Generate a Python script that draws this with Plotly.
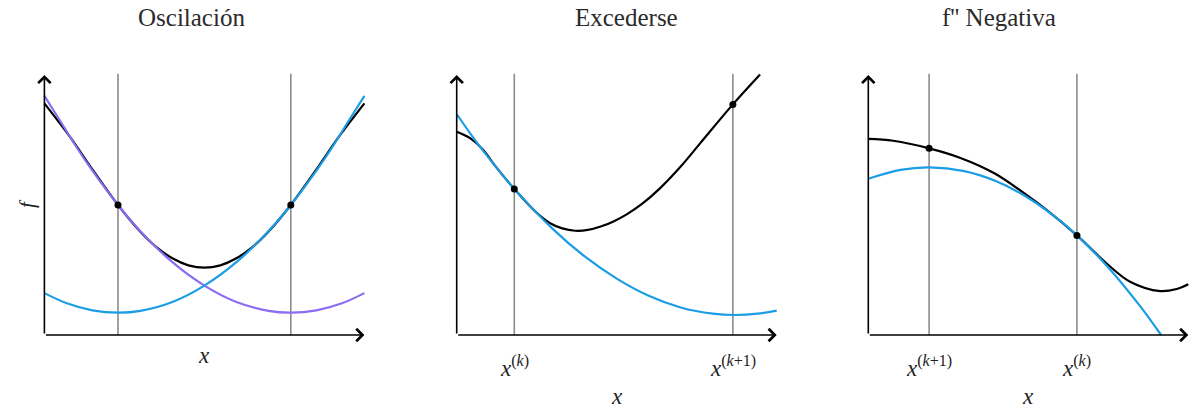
import plotly.graph_objects as go

# ---------------- data ----------------
panel_titles = ["Oscilación", "Excederse", "f'' Negativa"]

# Oscilación: true function and the two quadratic models
osc_x_f = [0, 0.8, 1.5, 2.3, 3.0, 3.5, 4.0, 4.5, 5.0, 5.5, 6.0, 6.5, 7.0, 7.7, 8.5, 9.2, 10]
osc_y_f = [8.91, 7.62, 6.37, 5.0, 3.97, 3.38, 2.95, 2.68, 2.59, 2.68, 2.95, 3.38, 3.97, 5.0, 6.37, 7.62, 8.91]
osc_x_q1 = [0, 0.5, 1.0, 1.5, 2.3, 3.0, 4.0, 5.0, 6.0, 7.0, 7.7, 8.5, 9.3, 10]
osc_y_q1 = [9.2, 8.22, 7.23, 6.32, 5.0, 3.99, 2.80, 1.90, 1.27, 0.93, 0.86, 0.95, 1.22, 1.61]
osc_x_q2 = [0, 0.7, 1.5, 2.3, 3.0, 4.0, 5.0, 6.0, 7.0, 7.7, 8.5, 9.0, 9.5, 10]
osc_y_q2 = [1.61, 1.22, 0.95, 0.86, 0.93, 1.27, 1.90, 2.80, 3.99, 5.0, 6.32, 7.23, 8.22, 9.2]
osc_steps_x = [2.3, 7.7]
osc_steps_y = [5.0, 5.0]

# Excederse
exc_x_f = [0, 0.42, 0.83, 1.14, 1.8, 2.5, 2.92, 3.3, 3.7, 4.1, 4.5, 4.9, 5.3, 5.8, 6.35, 7.0, 7.6, 8.63, 9.48]
exc_y_f = [7.82, 7.57, 7.12, 6.60, 5.62, 4.70, 4.30, 4.10, 4.01, 4.04, 4.17, 4.37, 4.63, 5.05, 5.64, 6.48, 7.36, 8.87, 10.02]
exc_x_q = [0, 0.5, 1.0, 1.8, 3.0, 4.0, 5.0, 6.0, 7.0, 8.0, 8.7, 9.4, 10]
exc_y_q = [8.5, 7.62, 6.81, 5.62, 4.08, 3.02, 2.17, 1.51, 1.06, 0.82, 0.77, 0.82, 0.94]
exc_steps_x = [1.8, 8.63]
exc_steps_y = [5.62, 8.87]
exc_tick_text = ["<i>x</i><sup>(<i>k</i>)</sup>", "<i>x</i><sup>(<i>k</i>+1)</sup>"]

# f'' Negativa
neg_x_f = [0, 0.78, 1.9, 2.86, 3.94, 5.02, 5.57, 6.52, 7.45, 8.18, 9.12, 9.64, 10]
neg_y_f = [7.54, 7.47, 7.18, 6.82, 6.22, 5.32, 4.81, 3.83, 2.75, 2.05, 1.69, 1.77, 1.95]
neg_x_q = [0, 1.0, 1.9, 3.0, 4.0, 5.0, 6.0, 6.52, 7.5, 8.5, 9.15]
neg_y_q = [6.01, 6.35, 6.45, 6.30, 5.91, 5.27, 4.39, 3.83, 2.60, 1.10, 0.0]
neg_steps_x = [1.9, 6.52]
neg_steps_y = [7.18, 3.83]
neg_tick_text = ["<i>x</i><sup>(<i>k</i>+1)</sup>", "<i>x</i><sup>(<i>k</i>)</sup>"]

# ---------------- style ----------------
W, H = 1192, 410
BLACK = "#000000"
BLUE = "#1b9de6"
PURPLE = "#8b6cf2"
GRAY = "#8c8c8c"
SERIF = "Liberation Serif"

PX_PER_UNIT = 32.0
X_RANGE = [-0.3, 10.1]
Y_RANGE = [-0.5, 10.5]
Y_ZERO_PX, Y_PX_PER_UNIT = 335.0, 26.0
origins_px = [44.4, 456.7, 868.3]
title_centers_px = [191.5, 626.5, 999.5]


def x_domain(origin):
    left = origin + X_RANGE[0] * PX_PER_UNIT
    right = origin + X_RANGE[1] * PX_PER_UNIT
    return [max(0, left / W), min(1, right / W)]


y_bottom_px = Y_ZERO_PX - Y_RANGE[0] * Y_PX_PER_UNIT
y_top_px = Y_ZERO_PX - Y_RANGE[1] * Y_PX_PER_UNIT
y_domain = [(H - y_bottom_px) / H, (H - y_top_px) / H]


def py(pixel_y):
    return (H - pixel_y) / H


fig = go.Figure()

# the true function goes first so the quadratic models sit on top of it
panels = [
    dict(curves=[(osc_x_f, osc_y_f, BLACK), (osc_x_q1, osc_y_q1, PURPLE), (osc_x_q2, osc_y_q2, BLUE)],
         sx=osc_steps_x, sy=osc_steps_y, ticks=None),
    dict(curves=[(exc_x_f, exc_y_f, BLACK), (exc_x_q, exc_y_q, BLUE)],
         sx=exc_steps_x, sy=exc_steps_y, ticks=exc_tick_text),
    dict(curves=[(neg_x_f, neg_y_f, BLACK), (neg_x_q, neg_y_q, BLUE)],
         sx=neg_steps_x, sy=neg_steps_y, ticks=neg_tick_text),
]

shapes, annotations = [], []
for i, p in enumerate(panels):
    n = "" if i == 0 else str(i + 1)
    xr, yr = "x" + n, "y" + n

    for cx, cy, col in p["curves"]:
        fig.add_trace(go.Scatter(x=cx, y=cy, mode="lines", xaxis=xr, yaxis=yr,
                                 line=dict(color=col, width=2.2, shape="spline", smoothing=1.0),
                                 cliponaxis=False, showlegend=False, hoverinfo="skip"))
    fig.add_trace(go.Scatter(x=p["sx"], y=p["sy"], mode="markers", xaxis=xr, yaxis=yr,
                             marker=dict(color=BLACK, size=7), cliponaxis=False,
                             showlegend=False, hoverinfo="skip"))

    # vertical guide lines at the iterates
    for sx in p["sx"]:
        shapes.append(dict(type="line", xref=xr, yref=yr, x0=sx, x1=sx, y0=0, y1=10.05,
                           line=dict(color=GRAY, width=1.6), layer="below"))

    # axes with arrowheads
    for (x0, y0, x1, y1) in [(0, 0, 10, 0), (0, 0, 0, 10)]:
        annotations.append(dict(xref=xr, yref=yr, axref=xr, ayref=yr, x=x1, y=y1, ax=x0, ay=y0,
                                text="", showarrow=True, arrowhead=4, arrowsize=1.5,
                                arrowwidth=1.6, arrowcolor=BLACK, standoff=0, startstandoff=0))

    # title
    annotations.append(dict(xref="paper", yref="paper", x=title_centers_px[i] / W, y=py(17),
                            text=panel_titles[i], showarrow=False, xanchor="center", yanchor="middle",
                            font=dict(family=SERIF, size=25, color="#2b2b2b")))

    # iterate labels and x-axis label
    if p["ticks"]:
        for sx, t in zip(p["sx"], p["ticks"]):
            annotations.append(dict(xref=xr, yref="paper", x=sx, y=py(366), text=t, showarrow=False,
                                    xanchor="center", yanchor="middle",
                                    font=dict(family=SERIF, size=23, color="#222")))
        xlab_y = 396
    else:
        xlab_y = 355
    annotations.append(dict(xref=xr, yref="paper", x=5, y=py(xlab_y), text="<i>x</i>", showarrow=False,
                            xanchor="center", yanchor="middle",
                            font=dict(family=SERIF, size=23, color="#222")))

# y-axis label on the first panel
annotations.append(dict(xref="paper", yref="paper", x=27 / W, y=py(204), text="<i>f</i>", showarrow=False,
                        textangle=-90, xanchor="center", yanchor="middle",
                        font=dict(family=SERIF, size=21, color="#222")))

layout = dict(width=W, height=H, margin=dict(l=0, r=0, t=0, b=0),
              paper_bgcolor="white", plot_bgcolor="white",
              shapes=shapes, annotations=annotations, showlegend=False)
for i, o in enumerate(origins_px):
    n = "" if i == 0 else str(i + 1)
    layout["xaxis" + n] = dict(domain=x_domain(o), range=X_RANGE, visible=False,
                               anchor="y" + n, fixedrange=True)
    layout["yaxis" + n] = dict(domain=y_domain, range=Y_RANGE, visible=False,
                               anchor="x" + n, fixedrange=True)
fig.update_layout(**layout)

fig.write_html("out.html")
